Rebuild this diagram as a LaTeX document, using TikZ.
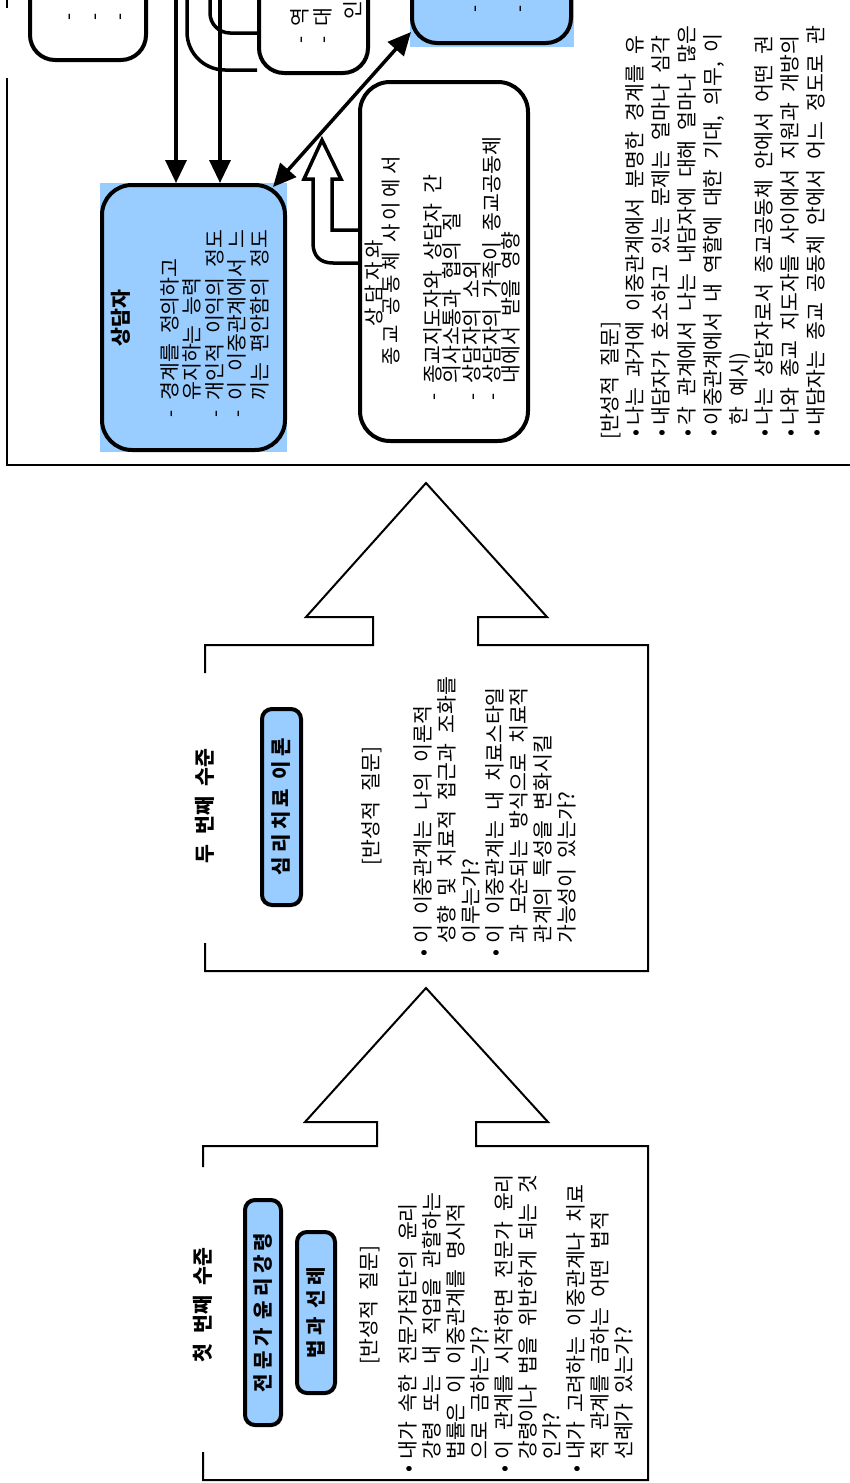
\documentclass[tikz,border=0pt]{standalone}
\usepackage{fontspec}
\setmainfont{Noto Sans CJK KR}[WordSpace=2.2]
\newfontfamily\widefont{Noto Sans CJK KR}[LetterSpace=22]
\usetikzlibrary{arrows.meta}
\definecolor{boxblue}{RGB}{153,204,255}
\newcommand{\bodyfont}{\fontsize{20.5}{24}\selectfont}
\newcommand{\qbul}{\makebox[18pt][c]{•}}
\newcommand{\qind}{\hspace*{18pt}}
\newcommand{\tbul}{\makebox[14pt][c]{•}}
\newcommand{\tind}{\hspace*{14pt}}
\begin{document}
\begin{tikzpicture}[x=1pt,y=-1pt,
  outline/.style={line width=2pt},
  conn/.style={line width=3.5pt,-{Triangle[width=21pt,length=23pt]}},
  dconn/.style={line width=3.5pt,{Triangle[width=21pt,length=23pt]}-{Triangle[width=21pt,length=23pt]}},
  roundbox/.style={draw,line width=4pt,fill=white,rounded corners=30pt,inner sep=0pt},
  tagbox/.style={draw,line width=4pt,fill=boxblue,rounded corners=10pt,rotate=90,inner sep=0pt,
    font=\widefont\fontsize{20}{22}\selectfont\bfseries},
  body/.style={rotate=90,inner sep=0pt,align=left,font=\bodyfont},
  heading/.style={rotate=90,inner sep=0pt,font=\bodyfont\bfseries},
  widehead/.style={rotate=90,inner sep=0pt,font=\widefont\fontsize{20}{22}\selectfont},
  hollow/.style={line width=3.5pt,line join=miter}
]
\fill[white] (0,0) rectangle (850,1483);
\useasboundingbox (0,0) rectangle (850,1483);

% ---------- section outlines ----------
\draw[outline] (7,0) -- (7,8);
\draw[outline] (7,78) -- (7,465) -- (852,465);
\draw[outline] (205,673) -- (205,645) -- (373,645) -- (373,617) -- (306,617) -- (426,483)
  -- (547,617) -- (478,617) -- (478,645) -- (648,645) -- (648,971) -- (205,971) -- (205,943);
\draw[outline] (203,1167) -- (203,1146) -- (377,1146) -- (377,1122) -- (305,1122) -- (426,988)
  -- (548,1122) -- (476,1122) -- (476,1146) -- (648,1146) -- (648,1480) -- (203,1480) -- (203,1452);

% ---------- third level (top, partly cut) ----------
\node[roundbox,rounded corners=25pt,minimum width=116pt,minimum height=120pt,anchor=south west] (clientbox) at (28,62) {};
\node[body] (cl1) at (72,17) {-};
\node[body] (cl2) at (98,17) {-};
\node[body] (cl3) at (123,17) {-};

\coordinate (offA) at (187,-10);
\coordinate (offB) at (210,-10);
\coordinate (joinA) at (257,70);
\coordinate (joinB) at (257,33);
\draw[line width=3.5pt,rounded corners=38pt] (offA) |- (joinA);
\draw[line width=3.5pt,rounded corners=20pt] (offB) |- (joinB);

\node[roundbox,rounded corners=25pt,minimum width=109pt,minimum height=130pt,anchor=south west] (rolebox) at (257,75) {};
\node[body,anchor=west] (rl1) at (300,44) {- 역};
\node[body,anchor=west] (rl2) at (323,44) {- 대};
\node[body,anchor=west] (rl3) at (353,20) {인};

\fill[boxblue] (410,-30) rectangle (574,47);
\node[roundbox,fill=boxblue,rounded corners=25pt,minimum width=159pt,minimum height=100pt,anchor=south west] (churchbox) at (410,45) {};
\node[body] (ch1) at (478,9) {-};
\node[body] (ch2) at (523,9) {-};

\fill[boxblue] (100,183) rectangle (287,452);
\node[roundbox,fill=boxblue,minimum width=183pt,minimum height=265pt,anchor=south west] (counselor) at (100,452) {};
\node[heading] (ctitle) at (121,318) {상담자};
\node[body,anchor=north west,font=\fontsize{20.5}{22.5}\selectfont] (clist) at (160,418)
  {- 경계를 정의하고\\\hphantom{- }유지하는 능력\\- 개인적 이익의 정도\\- 이 이중관계에서 느\\\hphantom{- }끼는 편안함의 정도};

\node[roundbox,minimum width=168pt,minimum height=359pt,anchor=south west] (religion) at (358,443) {};
\node[widehead] (rt1) at (374,283) {상담자와};
\node[widehead] (rt2) at (391,261) {종교 공동체 사이에서};
\node[body,anchor=north west,font=\fontsize{20.5}{17.5}\selectfont] (rlist) at (423,401)
  {- 종교지도자와 상담자 간\\\hphantom{- }의사소통과 협의 질\\- 상담자의 소외\\- 상담자의 가족이 종교공동체\\\hphantom{- }내에서 받을 영향};

\coordinate (inA) at (176,-10);
\coordinate (inB) at (220,-10);
\draw[conn] (inA) -- (inA |- counselor.north);
\draw[conn] (inB) -- (inB |- counselor.north);

\coordinate (tipC) at (273,187);
\coordinate (tipR) at (411,32);
\draw[dconn] (tipC) -- (tipR);

\coordinate (haI) at (332,230);
\coordinate (haO) at (333,263);
\draw[hollow] (religion.west |- haI) -- (haI) -- (332,179) -- (341,179) -- (322,140) -- (304,179)
  -- (313,179) -- (313,243) .. controls (313,256) and (320,263) .. (haO) -- (religion.west |- haO);

\node[body,anchor=north west,font=\fontsize{20.5}{25.8}\selectfont] (q3) at (600,440)
  {[반성적 질문]\\
   \tbul 나는 과거에 이중관계에서 분명한 경계를 유\\
   \tbul 내담자가 호소하고 있는 문제는 얼마나 심각\\
   \tbul 각 관계에서 나는 내담자에 대해 얼마나 많은\\
   \tbul 이중관계에서 내 역할에 대한 기대, 의무, 이\\
   \tind 한 예시)\\
   \tbul 나는 상담자로서 종교공동체 안에서 어떤 권\\
   \tbul 나와 종교 지도자들 사이에서 지원과 개방의\\
   \tbul 내담자는 종교 공동체 안에서 어느 정도로 관};

% ---------- second level ----------
\node[heading] (t2) at (205,806) {두 번째 수준};
\node[tagbox,minimum width=196pt,minimum height=39pt] (theory) at (281.5,807) {심리치료 이론};
\node[body] (rq2) at (372,806) {[반성적 질문]};
\node[body,anchor=north west] (q2) at (413,962)
  {\qbul 이 이중관계는 나의 이론적\\
   \qind 성향 및 치료적 접근과 조화를\\
   \qind 이루는가?\\
   \qbul 이 이중관계는 내 치료스타일\\
   \qind 과 모순되는 방식으로 치료적\\
   \qind 관계의 특성을 변화시킬\\
   \qind 가능성이 있는가?};

% ---------- first level ----------
\node[heading] (t1) at (203,1305) {첫 번째 수준};
\node[tagbox,minimum width=225pt,minimum height=36pt] (ethics) at (263,1312.5) {전문가 윤리강령};
\node[tagbox,minimum width=161pt,minimum height=38pt] (law) at (316,1312.5) {법과 선례};
\node[body] (rq1) at (370,1305) {[반성적 질문]};
\node[body,anchor=north west] (q1) at (398,1478)
  {\qbul 내가 속한 전문가집단의 윤리\\
   \qind 강령 또는 내 직업을 관할하는\\
   \qind 법률은 이 이중관계를 명시적\\
   \qind 으로 금하는가?\\
   \qbul 이 관계를 시작하면 전문가 윤리\\
   \qind 강령이나 법을 위반하게 되는 것\\
   \qind 인가?\\
   \qbul 내가 고려하는 이중관계나 치료\\
   \qind 적 관계를 금하는 어떤 법적\\
   \qind 선례가 있는가?};
\end{tikzpicture}
\end{document}
